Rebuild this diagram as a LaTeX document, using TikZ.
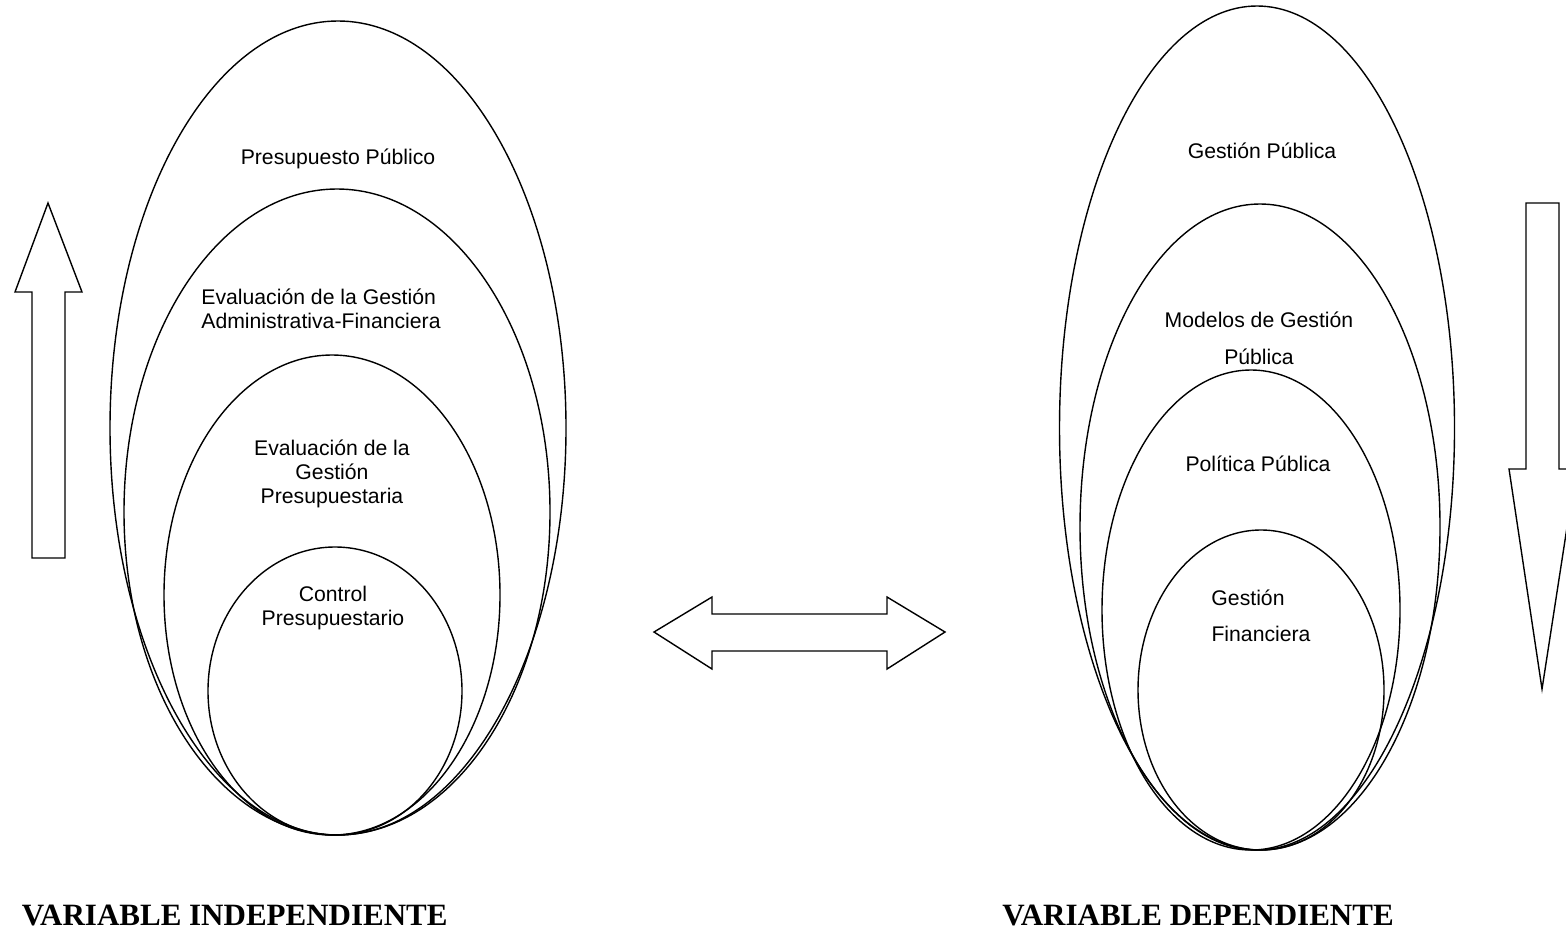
\documentclass[tikz,border=0pt]{standalone}
\usepackage{fontspec}
\setmainfont{Liberation Sans}
\newfontfamily\headfont{Liberation Serif}
\usetikzlibrary{shapes.geometric}
\begin{document}
\begin{tikzpicture}[x=0.5pt,y=-0.5pt,
  oval/.style={draw, ellipse, inner sep=0pt, line width=0.7pt},
  lbl/.style={font=\fontsize{10.6}{12}\selectfont, align=center, inner sep=0pt},
  varlbl/.style={font=\headfont\bfseries\fontsize{15.5}{18}\selectfont, inner sep=0pt},
  block/.style={draw, line width=0.7pt, line join=miter}]
\useasboundingbox (0,0) rectangle (1566,932);

% independent variable: nested ovals
\node[oval, minimum width=228pt, minimum height=407pt] (ppub) at (338,428) {};
\node[oval, minimum width=213pt, minimum height=323pt] (egaf) at (337,512) {};
\node[oval, minimum width=168pt, minimum height=240pt] (egp)  at (332,595) {};
\node[oval, minimum width=127pt, minimum height=144pt] (ctrl) at (335,691) {};

\node[lbl] (tppub) at (338,159) {Presupuesto Público};
\node[lbl, align=left, anchor=west] (tegaf) at (201,309) {Evaluación de la Gestión\\Administrativa-Financiera};
\node[lbl] (tegp) at (332,474) {Evaluación de la\\Gestión\\Presupuestaria};
\node[lbl] (tctrl) at (333,608) {Control\\Presupuestario};

% dependent variable: nested ovals
\node[oval, minimum width=197.5pt, minimum height=422pt] (gpub) at (1257,428) {};
\node[oval, minimum width=180pt, minimum height=323pt] (mgp) at (1260,527) {};
\node[oval, minimum width=149pt, minimum height=240pt] (pol) at (1251,610) {};
\node[oval, minimum width=123pt, minimum height=160pt] (gfin) at (1261,690) {};

\node[lbl] (tgpub) at (1262,151) {Gestión Pública};
\node[lbl, font=\fontsize{10.6}{18.5}\selectfont] (tmgp) at (1259,338) {Modelos de Gestión\\Pública};
\node[lbl] (tpol) at (1258,464) {Política Pública};
\node[lbl] (tgfa) at (1248,598) {Gestión};
\node[lbl] (tgfb) at (1261,634) {Financiera};

% block arrows
\draw[block] (32,558) -- (32,292) -- (15,292) -- (48,203) -- (82,292) -- (65,292) -- (65,558) -- cycle;
\draw[block] (1526,203) -- (1559,203) -- (1559,469) -- (1576,469) -- (1542,689) -- (1509,469) -- (1526,469) -- cycle;
\draw[block] (654,632) -- (712,597) -- (712,614) -- (887,614) -- (887,597) -- (945,632)
  -- (887,669) -- (887,651) -- (712,651) -- (712,669) -- cycle;

% captions
\node[varlbl, anchor=base east] (vind) at (448,925) {VARIABLE INDEPENDIENTE};
\node[varlbl, anchor=base west] (vdep) at (1002,925) {VARIABLE DEPENDIENTE};
\end{tikzpicture}
\end{document}
